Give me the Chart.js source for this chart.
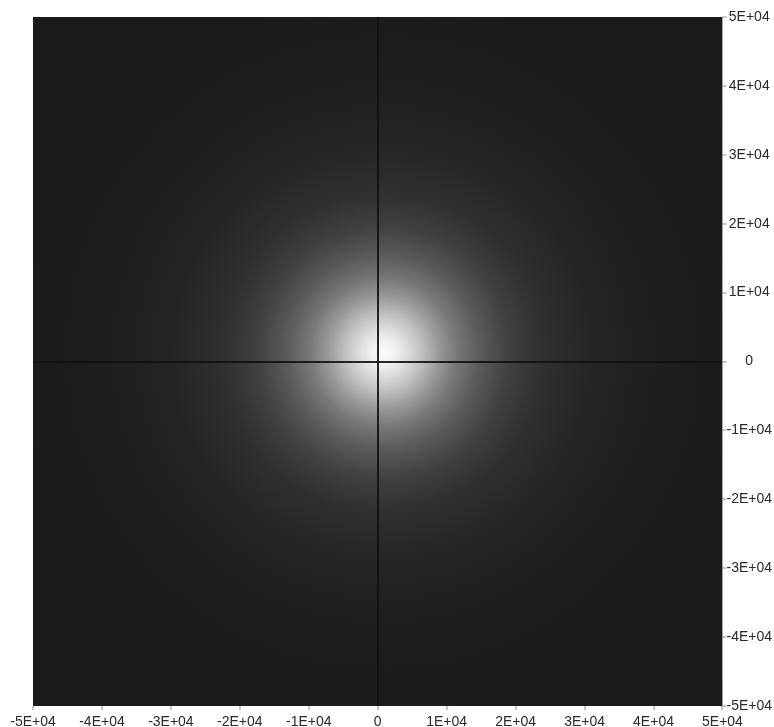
<!DOCTYPE html>
<html>
<head>
<meta charset="utf-8">
<script src="https://cdn.jsdelivr.net/npm/chart.js@4/dist/chart.umd.min.js"></script>
<style>
  html, body { margin: 0; padding: 0; background: #ffffff; }
  #wrap { width: 774px; height: 727px; position: relative; }
</style>
</head>
<body>
<div id="wrap"><canvas id="c"></canvas></div>
<script>
// Axis ticks
const tickValues = [-50000, -40000, -30000, -20000, -10000, 0, 10000, 20000, 30000, 40000, 50000];
const xTickLabels = ['-5E+04', '-4E+04', '-3E+04', '-2E+04', '-1E+04', '0', '1E+04', '2E+04', '3E+04', '4E+04', '5E+04'];
const yTickLabels = ['-5E+04', '-4E+04', '-3E+04', '-2E+04', '-1E+04', '0', '1E+04', '2E+04', '3E+04', '4E+04', '5E+04'];

// Glow (intensity field): centre and radial brightness profile
const glowCenter = [{ x: 800, y: 1300 }];
const glowRadius = [0, 1500, 3000, 5400, 8000, 10600, 14000, 18200, 23000, 30500, 37500, 51000, 70000];
const glowLevel  = [250, 243, 226, 194, 154, 121, 91, 65, 48, 37, 31, 27, 26];

const glowPlugin = {
  id: 'glow',
  beforeDraw(chart) {
    const { ctx, chartArea: a, scales } = chart;
    const xs = scales.x, ys = scales.y;
    const c = chart.data.datasets[0].data[0];
    const cx = xs.getPixelForValue(c.x), cy = ys.getPixelForValue(c.y);
    const rMax = glowRadius[glowRadius.length - 1];
    const rPix = Math.abs(xs.getPixelForValue(rMax) - xs.getPixelForValue(0));
    ctx.save();
    ctx.beginPath();
    ctx.rect(a.left, a.top, a.right - a.left, a.bottom - a.top);
    ctx.clip();
    ctx.fillStyle = 'rgb(26,26,26)';
    ctx.fillRect(a.left, a.top, a.right - a.left, a.bottom - a.top);
    const g = ctx.createRadialGradient(cx, cy, 0, cx, cy, rPix);
    glowRadius.forEach((r, i) => {
      const v = glowLevel[i];
      g.addColorStop(r / rMax, `rgb(${v},${v},${v})`);
    });
    ctx.fillStyle = g;
    ctx.fillRect(a.left, a.top, a.right - a.left, a.bottom - a.top);
    ctx.restore();
  }
};

const axisFont = { family: '"Liberation Sans", Arial, sans-serif', size: 14, lineHeight: 1 };
const gridColor = (ctx) => (ctx.tick && ctx.tick.value === 0) ? 'rgba(18,18,18,0.9)' : 'rgba(0,0,0,0)';

new Chart(document.getElementById('c'), {
  type: 'scatter',
  data: {
    datasets: [{
      data: glowCenter,
      pointRadius: 0,
      pointHoverRadius: 0
    }]
  },
  options: {
    responsive: true,
    maintainAspectRatio: false,
    animation: false,
    layout: { padding: { left: 33, right: 2, top: 17, bottom: -7 } },
    plugins: { legend: { display: false }, tooltip: { enabled: false } },
    scales: {
      x: {
        type: 'linear',
        min: -50000, max: 50000,
        afterBuildTicks(scale) { scale.ticks = tickValues.map(v => ({ value: v })); },
        ticks: {
          color: '#2a2a2a',
          font: axisFont,
          padding: 5,
          maxRotation: 0,
          autoSkip: false,
          callback: (v, i) => xTickLabels[i]
        },
        grid: { color: gridColor, lineWidth: 2, tickColor: '#8a8a8a', tickLength: 4, tickWidth: 1 },
        border: { display: false }
      },
      y: {
        type: 'linear',
        position: 'right',
        min: -50000, max: 50000,
        afterBuildTicks(scale) { scale.ticks = tickValues.map(v => ({ value: v })); },
        ticks: {
          color: '#2a2a2a',
          font: axisFont,
          padding: 0,
          crossAlign: 'center',
          autoSkip: false,
          callback: (v, i) => yTickLabels[i]
        },
        grid: { color: gridColor, lineWidth: 2, tickColor: '#8a8a8a', tickLength: 4, tickWidth: 1 },
        border: { display: false }
      }
    }
  },
  plugins: [glowPlugin]
});
</script>
</body>
</html>
